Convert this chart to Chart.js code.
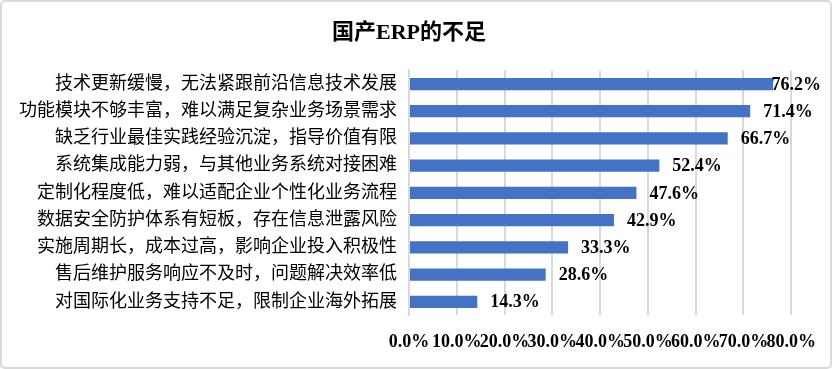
<!DOCTYPE html>
<html>
<head>
<meta charset="utf-8">
<script src="https://cdn.jsdelivr.net/npm/chart.js@4"></script>
<style>
  html, body { margin: 0; padding: 0; background: #fff; }
  canvas { display: block; }
</style>
</head>
<body>
<canvas id="chart" width="832" height="369"></canvas>
<script>
// 国产ERP的不足 - horizontal bar chart
const chartTitle = '国产ERP的不足';
const categories = [
    '技术更新缓慢，无法紧跟前沿信息技术发展',
    '功能模块不够丰富，难以满足复杂业务场景需求',
    '缺乏行业最佳实践经验沉淀，指导价值有限',
    '系统集成能力弱，与其他业务系统对接困难',
    '定制化程度低，难以适配企业个性化业务流程',
    '数据安全防护体系有短板，存在信息泄露风险',
    '实施周期长，成本过高，影响企业投入积极性',
    '售后维护服务响应不及时，问题解决效率低',
    '对国际化业务支持不足，限制企业海外拓展'
];
const shares = [76.2, 71.4, 66.7, 52.4, 47.6, 42.9, 33.3, 28.6, 14.3];
const axisMax = 80;
const axisStep = 10;

const fontStack = "'Liberation Serif', 'Noto Sans CJK SC', serif";
const barColor = '#4472C4';

// draw value labels at the bar ends, kept inside the canvas
const valueLabels = {
    id: 'valueLabels',
    afterDatasetsDraw(chart) {
        const { ctx } = chart;
        const meta = chart.getDatasetMeta(0);
        ctx.save();
        ctx.font = 'bold 18px ' + fontStack;
        ctx.fillStyle = '#000';
        ctx.textBaseline = 'middle';
        meta.data.forEach((bar, i) => {
            const txt = shares[i].toFixed(1) + '%';
            const w = ctx.measureText(txt).width;
            let x = bar.x + 13;
            if (x + w > chart.width - 11) x = chart.width - 11 - w;
            ctx.fillText(txt, x, bar.y + 1);
        });
        ctx.restore();
    }
};

// light frame round the whole chart
const frame = {
    id: 'frame',
    afterDraw(chart) {
        const { ctx } = chart;
        ctx.save();
        ctx.strokeStyle = '#d9d9d9';
        ctx.lineWidth = 2;
        ctx.beginPath();
        ctx.roundRect(1, 1, chart.width - 2, chart.height - 2, 4);
        ctx.stroke();
        ctx.restore();
    }
};

new Chart(document.getElementById('chart'), {
    type: 'bar',
    data: {
        labels: categories,
        datasets: [{
            data: shares,
            backgroundColor: barColor,
            borderWidth: 0,
            barPercentage: 0.45,
            categoryPercentage: 1
        }]
    },
    options: {
        indexAxis: 'y',
        responsive: false,
        animation: false,
        devicePixelRatio: 1,
        layout: { padding: { left: 17, right: 31, top: 4, bottom: 0 } },
        plugins: {
            legend: { display: false },
            tooltip: { enabled: false },
            title: {
                display: true,
                text: chartTitle,
                color: '#000',
                font: { family: fontStack, size: 22, weight: 'bold' },
                padding: { top: 16, bottom: 24 }
            }
        },
        scales: {
            x: {
                min: 0,
                max: axisMax,
                ticks: {
                    stepSize: axisStep,
                    color: '#000',
                    font: { family: fontStack, size: 18, weight: 'bold' },
                    padding: 16,
                    maxRotation: 0,
                    autoSkip: false,
                    callback: v => v.toFixed(1) + '%'
                },
                grid: { color: '#d9d9d9', lineWidth: 2, drawTicks: false },
                border: { display: false }
            },
            y: {
                ticks: {
                    color: '#000',
                    font: { family: fontStack, size: 18 },
                    padding: 12
                },
                grid: { display: false, drawTicks: false },
                border: { display: true, color: '#d9d9d9', width: 2 }
            }
        }
    },
    plugins: [valueLabels, frame]
});
</script>
</body>
</html>
